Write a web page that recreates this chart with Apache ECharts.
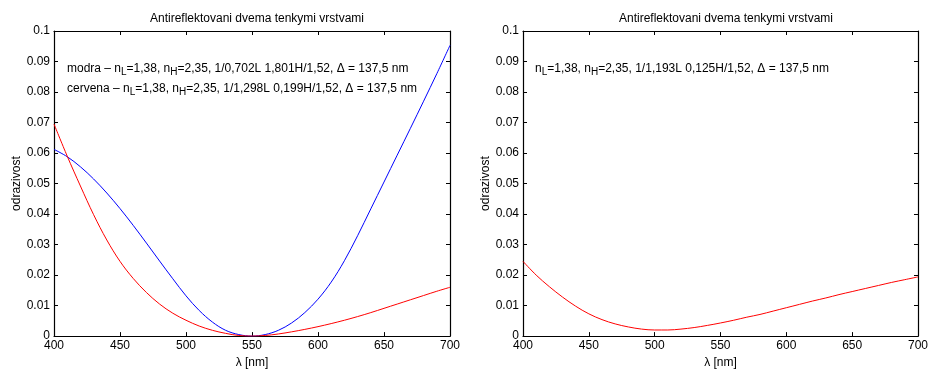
<!DOCTYPE html>
<html>
<head>
<meta charset="utf-8">
<script src="https://cdn.jsdelivr.net/npm/echarts@6/dist/echarts.min.js"></script>
<style>html,body{margin:0;padding:0;background:#fff}#c{width:931px;height:374px}</style>
</head>
<body>
<div id="c"></div>
<script>
// ---- data ----
const lambda = [400,410,420,430,440,450,460,470,480,490,500,510,520,530,540,550,560,570,580,590,600,610,620,630,640,650,660,670,680,690,700];
const blueLeft = [0.0612,0.0588,0.0555,0.0515,0.0469,0.0418,0.0363,0.0305,0.0246,0.0188,0.0132,0.0084,0.0046,0.0019,0.0005,0.0000,0.0005,0.0019,0.0043,0.0077,0.0121,0.0177,0.0247,0.0329,0.0417,0.0505,0.0593,0.0681,0.0770,0.0860,0.0953];
const redLeft = [0.0695,0.0590,0.0492,0.0398,0.0315,0.0245,0.0189,0.0143,0.0105,0.0075,0.0052,0.0033,0.0019,0.0009,0.0002,0.0000,0.0002,0.0007,0.0014,0.0022,0.0031,0.0041,0.0052,0.0064,0.0077,0.0091,0.0105,0.0119,0.0133,0.0147,0.0160];
const redRight = [0.0245,0.0200,0.0162,0.0128,0.0098,0.0073,0.0054,0.0040,0.0030,0.0023,0.0020,0.0020,0.0023,0.0028,0.0035,0.0043,0.0052,0.0062,0.0071,0.0082,0.0093,0.0104,0.0115,0.0125,0.0136,0.0146,0.0156,0.0166,0.0176,0.0185,0.0194];
const titleText = 'Antireflektovani dvema tenkymi vrstvami';
const xName = 'λ [nm]';
const yName = 'odrazivost';

const pairs = (ys) => lambda.map((x, i) => [x, ys[i]]);
const FONT = 'Liberation Sans, Arial, sans-serif';
const FS = 12;
const chart = echarts.init(document.getElementById('c'));

function xAx(g, bottom) {
  return {
    type: 'value', gridIndex: g, min: 400, max: 700, interval: 50,
    position: bottom ? 'bottom' : 'top',
    name: bottom ? xName : '', nameLocation: 'middle', nameGap: 20,
    nameTextStyle: {color: '#000', fontSize: FS, fontFamily: FONT},
    axisLine: {show: true, onZero: false, lineStyle: {color: '#000', width: 1.2}},
    axisTick: {show: true, inside: true, length: 4, lineStyle: {color: '#000'}},
    axisLabel: {show: bottom, color: '#000', fontSize: FS, fontFamily: FONT, margin: 4},
    splitLine: {show: false}
  };
}
function yAx(g, left) {
  return {
    type: 'value', gridIndex: g, min: 0, max: 0.1, interval: 0.01,
    position: left ? 'left' : 'right',
    name: left ? yName : '', nameLocation: 'middle', nameGap: 31,
    nameTextStyle: {color: '#000', fontSize: FS, fontFamily: FONT},
    axisLine: {show: true, onZero: false, lineStyle: {color: '#000', width: 1.2}},
    axisTick: {show: true, inside: true, length: 4, lineStyle: {color: '#000'}},
    axisLabel: {show: left, color: '#000', fontSize: FS, fontFamily: FONT, margin: 4},
    splitLine: {show: false}
  };
}
const rich = {
  n: {fontSize: FS, fontFamily: FONT, color: '#000'},
  s: {fontSize: 10, fontFamily: FONT, color: '#000', padding: [7, 0, 0, 0]}
};
function annot(x, y, str) {
  return {type: 'text', left: x, top: y, style: {text: str, rich: rich, font: FS + 'px ' + FONT, fill: '#000'}};
}
chart.setOption({
  animation: false,
  title: [
    {text: titleText, left: 252, top: 8, textAlign: 'center', textStyle: {fontSize: FS, fontWeight: 'normal', color: '#000', fontFamily: FONT}},
    {text: titleText, left: 721, top: 8, textAlign: 'center', textStyle: {fontSize: FS, fontWeight: 'normal', color: '#000', fontFamily: FONT}}
  ],
  grid: [
    {left: 54, right: 481, top: 31, bottom: 32},
    {left: 523, right: 12, top: 31, bottom: 32}
  ],
  xAxis: [xAx(0, true), xAx(0, false), xAx(1, true), xAx(1, false)],
  yAxis: [yAx(0, true), yAx(0, false), yAx(1, true), yAx(1, false)],
  graphic: [
    annot(67, 63, '{n|modra – n}{s|L}{n|=1,38, n}{s|H}{n|=2,35, 1/0,702L 1,801H/1,52, Δ = 137,5 nm}'),
    annot(67, 83, '{n|cervena – n}{s|L}{n|=1,38, n}{s|H}{n|=2,35, 1/1,298L 0,199H/1,52, Δ = 137,5 nm}'),
    annot(535, 63, '{n|n}{s|L}{n|=1,38, n}{s|H}{n|=2,35, 1/1,193L 0,125H/1,52, Δ = 137,5 nm}')
  ],
  series: [
    {type: 'line', xAxisIndex: 0, yAxisIndex: 0, data: pairs(blueLeft), showSymbol: false, smooth: 0.35, lineStyle: {color: '#0000ff', width: 1}, itemStyle: {color: '#0000ff'}},
    {type: 'line', xAxisIndex: 0, yAxisIndex: 0, data: pairs(redLeft), showSymbol: false, smooth: 0.35, lineStyle: {color: '#ff0000', width: 1}, itemStyle: {color: '#ff0000'}},
    {type: 'line', xAxisIndex: 2, yAxisIndex: 2, data: pairs(redRight), showSymbol: false, smooth: 0.35, lineStyle: {color: '#ff0000', width: 1}, itemStyle: {color: '#ff0000'}}
  ]
});
</script>
</body>
</html>
